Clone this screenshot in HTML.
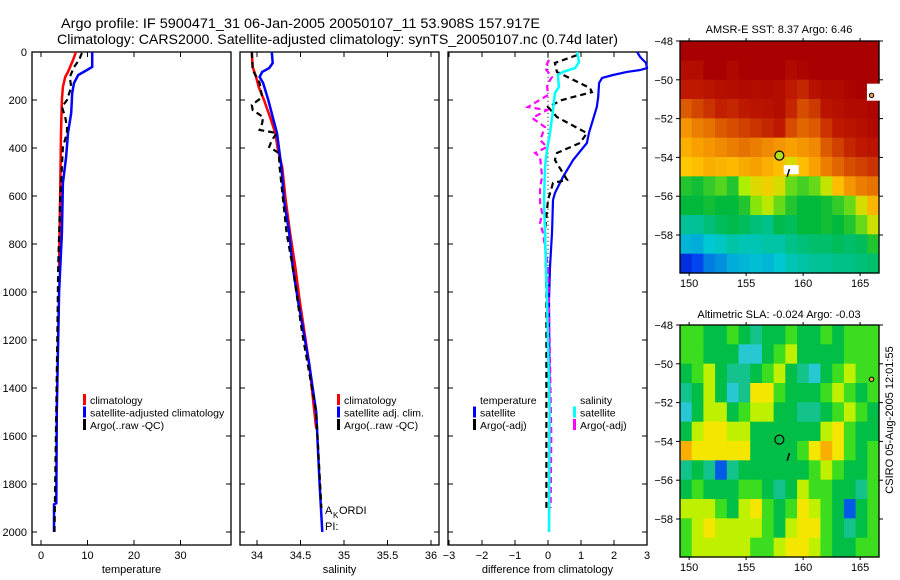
<!DOCTYPE html>
<html><head><meta charset="utf-8">
<style>
html,body{margin:0;padding:0;background:#fff;}
svg{display:block;font-family:"Liberation Sans",sans-serif;}
</style></head>
<body>
<svg id="fig" width="900" height="580" viewBox="0 0 900 580" xmlns="http://www.w3.org/2000/svg">
<text x="61" y="28" font-size="14" textLength="479" lengthAdjust="spacingAndGlyphs">Argo profile: IF 5900471_31 06-Jan-2005 20050107_11 53.908S 157.917E</text>
<text x="57" y="44" font-size="14" textLength="561" lengthAdjust="spacingAndGlyphs">Climatology: CARS2000. Satellite-adjusted climatology: synTS_20050107.nc (0.74d later)</text>
<text x="779" y="33" font-size="11" text-anchor="middle">AMSR-E SST: 8.37 Argo: 6.46</text>
<text x="779" y="318" font-size="11" text-anchor="middle">Altimetric SLA: -0.024 Argo: -0.03</text>
<text transform="translate(893,420) rotate(-90)" font-size="11" text-anchor="middle">CSIRO 05-Aug-2005 12:01:55</text>
<g id="g"></g>
</svg>
<script>
// ---------- data ----------
const depthTicks = [0,200,400,600,800,1000,1200,1400,1600,1800,2000];
const tempTicks = [0,10,20,30];
const salTicks = [34,34.5,35,35.5,36];
const diffTicks = [-3,-2,-1,0,1,2,3];

const climTempDepth = [0,33,83,104,146,200,338,617,896];
const climTempVal   = [7.5,6.9,5.8,5.2,4.7,4.5,4.3,4.1,3.9];
const satTempDepth = [0,62,75,96,129,171,254,338,438,546,754,1000,1300,1500,1880,1885,2000];
const satTempVal   = [11.0,11.0,9.9,8.0,7.1,6.7,6.5,5.8,5.4,4.7,4.5,3.9,3.6,3.4,3.3,2.8,2.8];
const argoTempDepth = [4,33,63,104,146,200,229,271,313,338,396,479,617,896,1200,1600,2000];
const argoTempVal   = [8.8,8.2,7.1,6.2,6.5,5.6,4.5,5.2,5.6,5.6,4.7,4.5,4.1,3.7,3.5,3.2,2.9];

const climSalDepth = [0,63,104,146,200,271,338,408,479,617,754,896,1033,1300,1570];
const climSalVal   = [33.94,33.95,33.99,34.02,34.08,34.15,34.21,34.24,34.29,34.33,34.38,34.44,34.49,34.60,34.68];
const satSalDepth = [0,46,67,83,104,129,200,271,338,479,617,754,896,1033,1300,1500,1800,2000];
const satSalVal   = [34.17,34.18,34.14,34.06,34.03,34.07,34.13,34.18,34.23,34.28,34.31,34.37,34.41,34.47,34.60,34.68,34.72,34.75];
const argoSalDepth = [0,75,129,188,221,242,271,296,325,338,367,396,421,479,617,754,896,1171,1500,1900];
const argoSalVal   = [33.94,33.95,34.03,34.06,33.94,33.95,34.07,34.06,34.03,34.23,34.17,34.14,34.25,34.26,34.30,34.34,34.41,34.52,34.68,34.74];

const satTDiffDepth = [0,21,46,67,75,83,96,108,129,188,229,283,338,379,450,521,588,617,754,896,1033,1500,2000];
const satTDiffVal   = [2.70,2.79,2.97,3.0,2.79,2.39,1.97,1.64,1.55,1.52,1.48,1.36,1.24,1.18,0.76,0.45,0.21,0.15,0.12,0.06,0.03,0.05,0.03];
const satSDiffDepth = [0,42,67,83,96,146,171,242,338,408,479,617,1033,1500,2000];
const satSDiffVal   = [0.88,0.94,0.82,0.45,0.30,0.33,0.21,0.15,0.06,-0.03,-0.09,-0.12,-0.03,0.05,0.03];
const argoTDiffDepth = [13,46,83,150,167,200,229,271,338,379,421,450,533,546,617,742,1000,1500,1900];
const argoTDiffVal   = [0.88,0.21,0.27,1.27,1.33,0.42,0,0.27,1.18,0.97,0.27,0.21,0.58,0.15,0,-0.09,-0.05,-0.05,-0.05];
const argoSDiffDepth = [33,67,104,138,179,229,242,275,313,367,396,421,438,521,563,629,671,713,754,896,1200,1600,1900];
const argoSDiffVal   = [0.03,-0.09,0.12,-0.03,0,-0.61,-0.03,-0.48,-0.09,-0.24,-0.03,-0.39,-0.24,-0.18,-0.24,-0.24,-0.18,-0.24,-0.15,0,0.05,0.1,0.08];

const latTicks = [-48,-50,-52,-54,-56,-58];
const lonTicks = [150,155,160,165];
const sstGrid = [
[10,10,10,10,10,10,10,10,10,10,10,10,10,10,10,10,10],
[9.5,9.5,10,10,9.7,10,10,10,10,9.6,9.8,10,10,10,10,10,10],
[9,9,9.2,9.4,9.5,9.6,9.5,9.6,9.5,9,8.8,9.3,9.6,9.6,9.8,10,10],
[8,8.3,8.6,8.9,8.8,9,9.2,9.3,9.5,8.8,8.2,8.5,9.2,9.4,9.6,9.6,9.8],
[7,7.4,7.6,8,8.2,8.4,8.6,8.8,9,8.2,7.8,8,8.6,9,9.2,9.4,9.6],
[6.5,6.8,7,7.2,7.4,7.6,7.4,7.2,7,6.8,7,7.2,8,8.4,8.8,9,9.2],
[6,6.2,6.5,6.4,6.3,6.6,6.8,6.5,6.2,5.6,6.2,6.8,7.4,7.8,8.2,8.4,8.6],
[4.2,4.1,4.3,4.5,4.2,5,5.6,5.8,5.5,4.6,4.4,4.6,5.3,6.2,7,7.4,7.6],
[4,4,4.1,4,4,4.2,4.8,5.2,4.6,4.2,4,4,4.1,4.3,4.6,5.5,6.4],
[3.4,3.4,3.6,3.8,3.9,3.8,3.6,3.5,3.9,3.8,4,4,4.1,4,4.2,4.6,5.4],
[2.8,2.7,3,3.1,3.3,3.2,3.2,3.3,3.3,3.5,3.6,3.7,3.7,3.8,3.7,3.8,4.2],
[1.2,1.6,2.2,2.4,2.7,2.8,2.9,2.8,3,3.2,3.3,3.4,3.4,3.5,3.5,3.6,3.7]];
const slaGrid = [
[0.5,0.5,0,0,0.5,0,-0.5,0,0,0.5,0,0,0.5,0,0.5,0.5,0.5],
[0.5,0.5,0,0,0,-1,-1,0,0.5,1,0,0,0,0,0.5,0.5,0.5],
[0,0.5,1,0,-0.5,-0.5,0,0.5,1,0,-0.5,-1,0,0.5,1,0.5,0.5],
[-0.5,0,1,0,-1,-0.5,1.5,1.5,0.5,0,0,0,0.5,1,0.5,0,0.5],
[-1,0,1,1,0,0.5,1,1,0,0,-0.5,-0.5,0,0.5,1,0.5,0],
[0,1,1.5,1.5,1,1,0,0,0,0,0,0,1,1.5,0.5,0,0],
[2,1.5,1.5,1.5,1.5,1.5,0,0,0,0,0.5,1.5,2,1.5,0.5,0,0.5],
[-0.5,0,-0.5,-2,-0.5,0,0,0,0,0,0,0.5,1,0.5,0,0,0.5],
[0,0.5,0,0,0,0.5,0.5,0,-0.5,0,1,0.5,0.5,0,0,-0.5,0.5],
[1,1,1,0.5,0,1,1.5,0.5,0,0.5,1.5,1,0.5,0,-2,0,0.5],
[0.5,1,1.5,1,1,1,1,0.5,0,1,1.5,1.5,0.5,0,-0.5,0,0.5],
[0.5,1,1,1,1,1,0.5,0.5,1,1.5,1.5,1,0.5,0,0,0.5,0.5]];
const floatLon = [157.917];
const floatLat = [-53.908];

// ---------- drawing ----------
const NS='http://www.w3.org/2000/svg';
const G=document.getElementById('g');
function el(tag,attrs,parent){const e=document.createElementNS(NS,tag);for(const k in attrs)e.setAttribute(k,attrs[k]);(parent||G).appendChild(e);return e;}
function txt(s,attrs,parent){const e=el('text',attrs,parent);e.textContent=s;return e;}

const PTOP=52,PBOT=545;
const yD=d=>PTOP+d*0.24;
const panels=[
 {name:'temperature',x0:32,x1:231,f:v=>41+v*4.65,ticks:tempTicks,lab:'temperature'},
 {name:'salinity',x0:240,x1:439,f:v=>257+(v-34)*87,ticks:salTicks,lab:'salinity'},
 {name:'difference',x0:448,x1:647,f:v=>548+v*33,ticks:diffTicks,lab:'difference from climatology'}
];
panels.forEach((p,i)=>{
  const g=el('g',{});
  
  
  el('rect',{x:p.x0,y:PTOP,width:p.x1-p.x0,height:PBOT-PTOP,fill:'none',stroke:'#000','stroke-width':1.3},g);
  depthTicks.forEach(d=>{
    const y=yD(d);
    el('line',{x1:p.x0,x2:p.x0+5,y1:y,y2:y,stroke:'#000'},g);
    el('line',{x1:p.x1,x2:p.x1-5,y1:y,y2:y,stroke:'#000'},g);
    if(i===0){const t=txt(String(d),{x:27,y:y+4,'font-size':11,'text-anchor':'end'},g);
      
      }
  });
  p.ticks.forEach(v=>{
    const x=p.f(v);
    el('line',{x1:x,x2:x,y1:PBOT,y2:PBOT-5,stroke:'#000'},g);
    el('line',{x1:x,x2:x,y1:PTOP,y2:PTOP+5,stroke:'#000'},g);
    const t=txt(String(v).replace('-','\u2212'),{x:x,y:559,'font-size':11,'text-anchor':'middle'},g);
    
    
  });
  const t=txt(p.lab,{x:(p.x0+p.x1)/2,y:573,'font-size':11,'text-anchor':'middle'},g);
  
  
});

function line(p,depths,vals,color,w,dash,name){
  const pts=depths.map((d,k)=>p.f(vals[k]).toFixed(1)+','+yD(d).toFixed(1)).join(' ');
  const pl=el('polyline',{points:pts,fill:'none',stroke:color,'stroke-width':w,'stroke-dasharray':dash||'none'});
  
  
}
const zx=panels[2].f(0);
el('line',{x1:zx,x2:zx,y1:yD(20),y2:yD(1100),stroke:'#000','stroke-width':1,'stroke-dasharray':'1,3'});
line(panels[0],climTempDepth,climTempVal,'#f00',2.5,null,'temp-climatology-line');
line(panels[0],satTempDepth,satTempVal,'#00f',2.5,null,'temp-satellite-line');
line(panels[0],argoTempDepth,argoTempVal,'#000',2.2,'6,4','temp-argo-line');
line(panels[1],climSalDepth,climSalVal,'#f00',2.5,null,'sal-climatology-line');
line(panels[1],satSalDepth,satSalVal,'#00f',2.5,null,'sal-satellite-line');
line(panels[1],argoSalDepth,argoSalVal,'#000',2.2,'6,4','sal-argo-line');
line(panels[2],satTDiffDepth,satTDiffVal,'#00f',2.2,null,'temp-diff-satellite-line');
line(panels[2],argoTDiffDepth,argoTDiffVal,'#000',2.2,'6,4','temp-diff-argo-line');
line(panels[2],argoSDiffDepth,argoSDiffVal,'#f0f',2.2,'6,4','sal-diff-argo-line');
line(panels[2],satSDiffDepth,satSDiffVal,'#0ff',2.5,null,'sal-diff-satellite-line');

function legend(x,y,items,name){
  const g=el('g',{});
  
  
  items.forEach((it,k)=>{
    const yy=y+k*12.5;
    if(it[1]) el('rect',{x:x,y:yy-10,width:3,height:11,fill:it[1]},g);
    txt(it[0],{x:x+7,y:yy,'font-size':10.5},g);
  });
}
legend(83,404,[['climatology','#f00'],['satellite-adjusted climatology','#00f'],['Argo(..raw -QC)','#000']],'temp-legend');
legend(337,404,[['climatology','#f00'],['satellite adj. clim.','#00f'],['Argo(..raw -QC)','#000']],'sal-legend');
legend(473,404,[['temperature',null],['satellite','#00f'],['Argo(-adj)','#000']],'diff-temp-legend');
legend(573,404,[['salinity',null],['satellite','#0ff'],['Argo(-adj)','#f0f']],'diff-sal-legend');
txt('A',{x:325,y:514,'font-size':11});
txt('K',{x:333,y:518,'font-size':8});
txt('ORDI',{x:339,y:514,'font-size':11});
txt('PI:',{x:325,y:530,'font-size':11});

// ---------- maps ----------
function lerp(stops,v){
  if(v<=stops[0][0])return stops[0][1];
  for(let i=1;i<stops.length;i++){if(v<=stops[i][0]){const a=stops[i-1],b=stops[i],t=(v-a[0])/(b[0]-a[0]);
    const c=a[1].map((x,j)=>Math.round(x+(b[1][j]-x)*t));return c;}}
  return stops[stops.length-1][1];
}
const sstStops=[[0,[0,0,150]],[1.5,[0,60,240]],[3,[0,200,210]],[4,[0,185,60]],[5,[170,240,0]],[6,[255,200,0]],[7,[245,150,0]],[8,[220,90,0]],[9,[190,25,0]],[10,[168,0,0]]];
const slaStops=[[-2,[0,90,230]],[-1,[40,200,210]],[0,[0,190,70]],[0.5,[60,220,30]],[1,[190,240,0]],[1.5,[245,230,0]],[2,[248,175,0]]];
function drawMap(y0,grid,stops,name,fillCircle){
  const x0=680,x1=879,y1=y0+232;
  const lx=l=>x0+(l-149.2)*11.4, ly=l=>y0+(-48-l)*19.4;
  const g=el('g',{});
  
  
  const rows=grid.length,cols=grid[0].length,cw=(x1-x0)/cols,ch=(y1-y0)/rows;
  grid.forEach((r,i)=>r.forEach((v,j)=>{
    const c=lerp(stops,v);
    const rc=el('rect',{x:(x0+j*cw).toFixed(2),y:(y0+i*ch).toFixed(2),width:(cw+0.6).toFixed(2),height:(ch+0.6).toFixed(2),fill:'rgb('+c.join(',')+')'},g);
    
    
  }));
  el('rect',{x:x0,y:y0,width:x1-x0,height:y1-y0,fill:'none',stroke:'#000','stroke-width':1.3},g);
  latTicks.forEach(l=>{const y=ly(l);
    el('line',{x1:x0-4,x2:x0,y1:y,y2:y,stroke:'#000'},g);
    el('line',{x1:x1,x2:x1+4,y1:y,y2:y,stroke:'#000'},g);
    txt(String(l).replace('-','\u2212'),{x:673,y:y+4,'font-size':11,'text-anchor':'end'},g);});
  lonTicks.forEach(l=>{const x=lx(l);
    el('line',{x1:x,x2:x,y1:y0,y2:y0-3,stroke:'#000'},g);
    el('line',{x1:x,x2:x,y1:y1,y2:y1+3,stroke:'#000'},g);
    txt(String(l),{x:x,y:y1+14,'font-size':11,'text-anchor':'middle'},g);});
  const c=el('circle',{cx:lx(floatLon[0]),cy:ly(floatLat[0]),r:4.5,fill:fillCircle?'#b0e020':'none',stroke:'#000','stroke-width':1.2},g);
  
  
  if(fillCircle){
    el('rect',{x:lx(158.3),y:ly(-54.4),width:15,height:9,fill:'#fff'},g);
    el('rect',{x:lx(165.6),y:ly(-50.2),width:13,height:17,fill:'#fff'},g);
  }
  el('line',{x1:lx(158.8),y1:ly(-54.6),x2:lx(158.6),y2:ly(-55.0),stroke:'#000','stroke-width':1.5},g);
  el('circle',{cx:lx(166),cy:ly(-50.8),r:2.2,fill:'#f4a040',stroke:'#000','stroke-width':1},g);
}
drawMap(41,sstGrid,sstStops,'sst-map',true);
drawMap(325,slaGrid,slaStops,'sla-map',false);
</script>
</body></html>
